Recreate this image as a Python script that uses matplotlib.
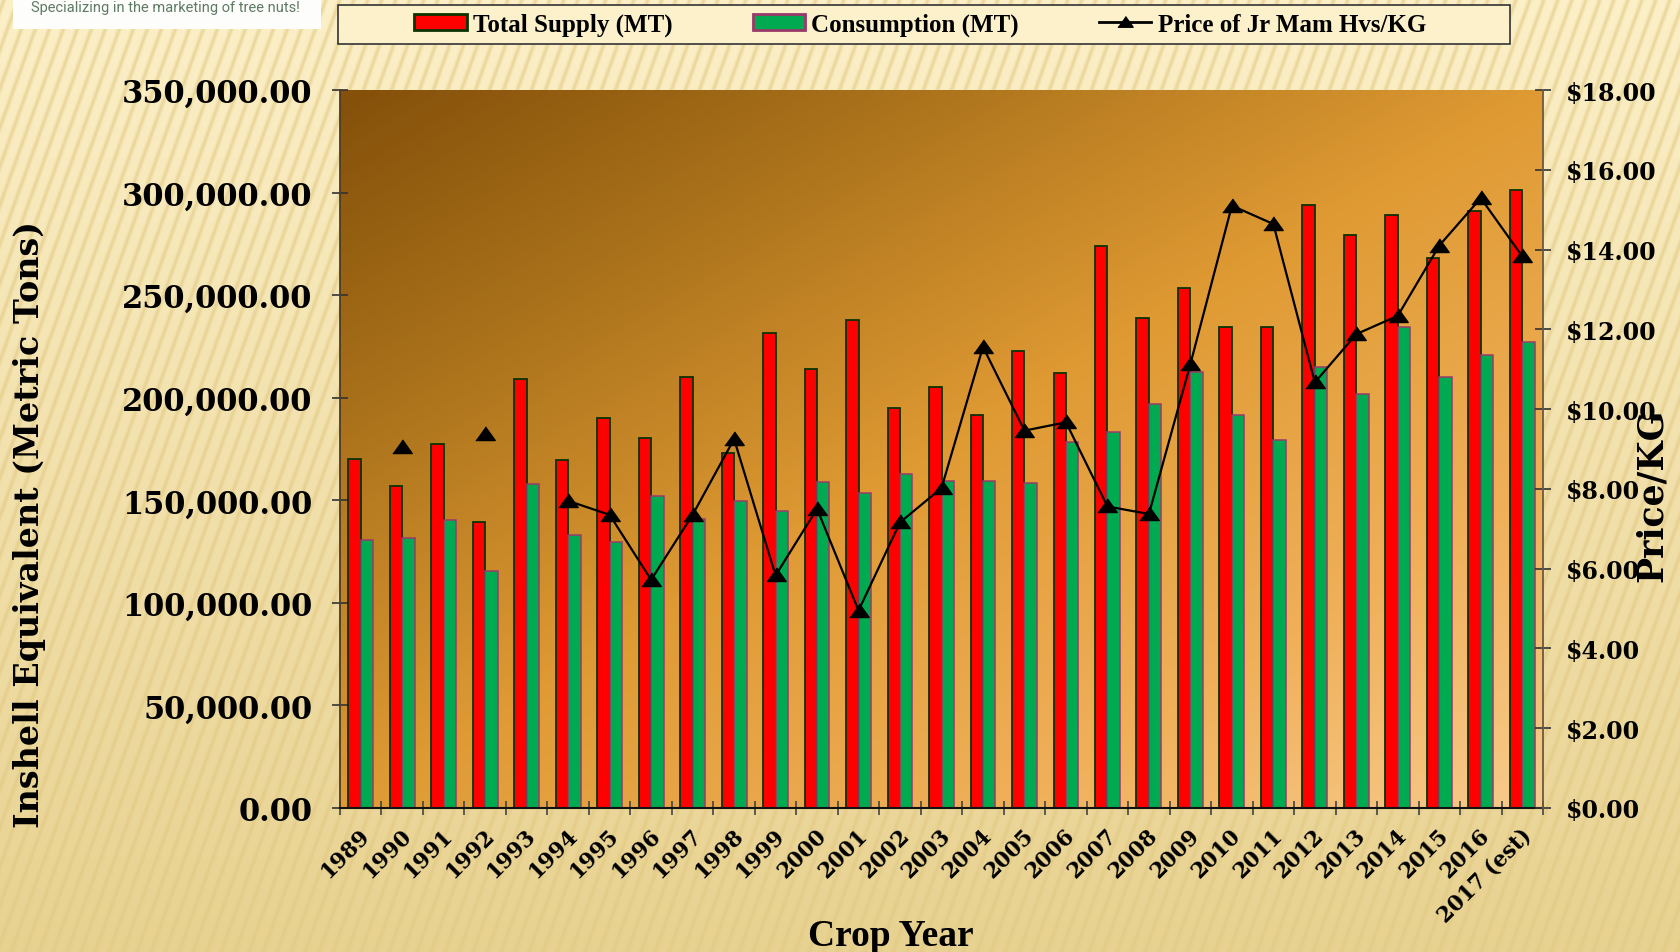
import numpy as np
import matplotlib
matplotlib.use("Agg")
import matplotlib.pyplot as plt
from matplotlib.colors import LinearSegmentedColormap
from matplotlib.patches import Rectangle, Patch
from matplotlib.lines import Line2D
from matplotlib.transforms import ScaledTranslation

# ---------------- data ----------------
years = ["1989", "1990", "1991", "1992", "1993", "1994", "1995", "1996", "1997", "1998",
         "1999", "2000", "2001", "2002", "2003", "2004", "2005", "2006", "2007", "2008",
         "2009", "2010", "2011", "2012", "2013", "2014", "2015", "2016", "2017 (est)"]
total_supply = [170000, 156800, 177400, 139300, 209100, 169800, 190300, 180200, 210000, 172900,
                231700, 214000, 238000, 194800, 205100, 191400, 222600, 212200, 274100, 238700,
                253600, 234300, 234300, 294100, 279300, 289100, 268300, 291000, 301100]
consumption = [130800, 131400, 140400, 115400, 157900, 133100, 129800, 152300, 140900, 149700,
               144800, 159100, 153500, 162800, 159400, 159400, 158300, 178300, 183300, 196900,
               212700, 191600, 179400, 215100, 201700, 234300, 210000, 220800, 227000]
price = [np.nan, 9.05, np.nan, 9.37, np.nan, 7.70, 7.35, 5.72, 7.35, 9.25,
         5.83, 7.50, 4.95, 7.16, 8.02, 11.56, 9.46, 9.67, 7.56, 7.37,
         11.13, 15.10, 14.64, 10.67, 11.88, 12.34, 14.10, 15.29, 13.83]
left_ticks = [0, 50000, 100000, 150000, 200000, 250000, 300000, 350000]
right_ticks = [0, 2, 4, 6, 8, 10, 12, 14, 16, 18]

W, H = 1680, 953
fig = plt.figure(figsize=(W / 100, H / 100), dpi=100)

# ---------------- background (striped cream) ----------------
yy, xx = np.mgrid[0:H, 0:W].astype(float)
tv = yy / H
top = np.array([252, 240, 200]) / 255
bot = np.array([232, 210, 145]) / 255
base = top[None, None, :] * (1 - tv[..., None]) + bot[None, None, :] * tv[..., None]
phase = (xx + 0.36 * yy) / 14.0
stripe = (0.5 + 0.5 * np.sin(2 * np.pi * phase)) ** 4
dark = np.array([225, 200, 130]) / 255
bg = base * (1 - 0.6 * stripe[..., None]) + dark[None, None, :] * 0.6 * stripe[..., None]
bgax = fig.add_axes([0, 0, 1, 1], zorder=-10)
bgax.imshow(bg, aspect="auto", extent=(0, 1, 0, 1), interpolation="bilinear")
bgax.set_axis_off()

# ---------------- main axes ----------------
L, R, T, B = 340, 1543, 91, 809
ax = fig.add_axes([L / W, 1 - B / H, (R - L) / W, (B - T) / H])
ax.patch.set_visible(False)

cmap = LinearSegmentedColormap.from_list(
    "plotgrad", [(0.0, "#84500a"), (0.22, "#a8701a"), (0.5, "#df9a33"), (0.78, "#f0b05a"), (1.0, "#f7cb8c")])
gx, gy = np.meshgrid(np.linspace(0, 1, 300), np.linspace(0, 1, 200))
grad = (gx + gy) / 2.0
ax.imshow(grad, cmap=cmap, extent=(0, 1, 0, 1), transform=ax.transAxes,
          aspect="auto", zorder=0, interpolation="bilinear")

n = len(years)
x = np.arange(n)
bw = 0.3
ax.bar(x - bw / 2, total_supply, width=bw, color="#ff0000", edgecolor="#0a3300",
       linewidth=1.3, zorder=2)
ax.bar(x + bw / 2, consumption, width=bw, color="#00aa50", edgecolor="#9a3a6a",
       linewidth=1.1, zorder=2)

ax.set_xlim(-0.5, n - 0.5)
ax.set_ylim(0, 350000)
ax.set_yticks(left_ticks)
ax.set_yticklabels([f"{v:,.2f}" for v in left_ticks])

ax.set_xticks(np.arange(n + 1) - 0.5)
ax.set_xticklabels([])
ax.set_xticks(x, years, minor=True)
ax.tick_params(axis="x", which="major", direction="inout", length=9.5, width=1.2, color="#444444")
ax.tick_params(axis="x", which="minor", length=0, pad=17)
ax.tick_params(axis="y", direction="inout", length=11.5, width=1.2, color="#333333", pad=14,
               labelsize=22)
for lab in ax.get_yticklabels():
    lab.set_fontfamily("DejaVu Serif")
    lab.set_fontweight("bold")
off = ScaledTranslation(6 / 100, 0, fig.dpi_scale_trans)
for lab in ax.get_xticklabels(minor=True):
    lab.set_rotation(45)
    lab.set_ha("right")
    lab.set_va("center")
    lab.set_rotation_mode("anchor")
    lab.set_fontfamily("DejaVu Serif")
    lab.set_fontweight("bold")
    lab.set_fontsize(15.5)
    lab.set_transform(lab.get_transform() + off)

ax.spines["top"].set_visible(False)
ax.spines["right"].set_visible(False)
ax.spines["left"].set_color("#4a3c28")
ax.spines["left"].set_linewidth(1.3)
ax.spines["bottom"].set_color("#111111")
ax.spines["bottom"].set_linewidth(1.5)

# ---------------- price axis ----------------
ax2 = ax.twinx()
tri = [(-1.0, -0.62), (1.0, -0.62), (0.0, 0.78)]
ax2.plot(x, price, color="black", linewidth=1.6, marker=tri, markersize=14,
         markerfacecolor="black", markeredgecolor="black", zorder=5)
ax2.set_ylim(0, 18)
ax2.set_yticks(right_ticks)
ax2.set_yticklabels([f"${v:.2f}" for v in right_ticks])
ax2.tick_params(axis="y", direction="inout", length=11.5, width=1.2, color="#333333", pad=11,
                labelsize=17)
for lab in ax2.get_yticklabels():
    lab.set_fontfamily("DejaVu Serif")
    lab.set_fontweight("bold")
for s in ["top", "left", "bottom"]:
    ax2.spines[s].set_visible(False)
ax2.spines["right"].set_color("#6a5a40")
ax2.spines["right"].set_linewidth(1.3)

# ---------------- axis titles ----------------
fig.text(30 / W, 1 - 525 / H, "Inshell Equivalent (Metric Tons)", rotation=90,
         ha="center", va="center", fontsize=24, fontfamily="DejaVu Serif", fontweight="bold")
fig.text(1652 / W, 1 - 495 / H, "Price/KG", rotation=90, ha="center", va="center",
         fontsize=25, fontfamily="DejaVu Serif", fontweight="bold")
fig.text(891 / W, 7 / H, "Crop Year", ha="center", va="baseline", fontsize=27,
         fontfamily="Liberation Serif", fontweight="bold")

# ---------------- legend ----------------
fig.patches.append(Rectangle((338 / W, 1 - 45 / H), 1172 / W, 39 / H, transform=fig.transFigure,
                             facecolor="#fdf1cc", edgecolor="#333333", linewidth=1.2, zorder=3))
handles = [Patch(facecolor="#ff0000", edgecolor="#0a3300", linewidth=2),
           Patch(facecolor="#00aa50", edgecolor="#9a3a6a", linewidth=2),
           Line2D([0], [0], color="black", linewidth=2, marker=tri, markersize=11)]
labels = ["Total Supply (MT)", "Consumption (MT)", "Price of Jr Mam Hvs/KG"]
leg = fig.legend(handles, labels, loc="center", bbox_to_anchor=(920 / W, 1 - 25.5 / H),
                 ncol=3, frameon=False, handlelength=2.1, handleheight=0.6,
                 handletextpad=0.25, columnspacing=3.2,
                 prop={"family": "Liberation Serif", "weight": "bold", "size": 18})
leg.set_zorder(4)

# ---------------- logo strip ----------------
fig.patches.append(Rectangle((13 / W, 1 - 30 / H), 308 / W, 30 / H, transform=fig.transFigure,
                             facecolor="#fdfdfb", edgecolor="none", zorder=3))
fig.text(165 / W, 1 - 8 / H, "Specializing in the marketing of tree nuts!", ha="center",
         va="center", fontsize=10.5, color="#5f7a62", fontfamily="Roboto", zorder=4)

fig.savefig("out.png", dpi=100)
